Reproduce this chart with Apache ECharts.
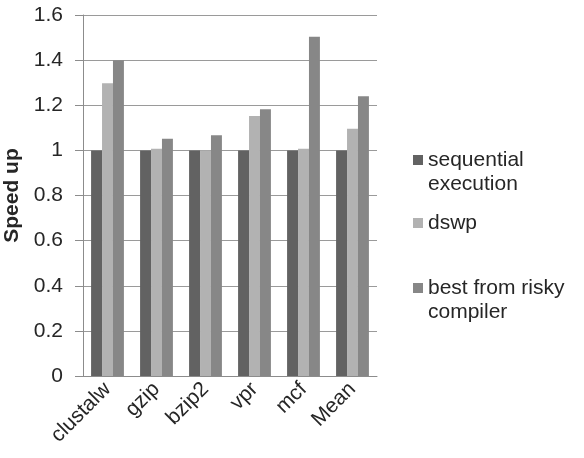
<!DOCTYPE html>
<html><head><meta charset="utf-8">
<script src="https://cdn.jsdelivr.net/npm/echarts@6/dist/echarts.min.js"></script>
<style>html,body{margin:0;padding:0;background:#fff}#c{width:584px;height:458px}</style>
</head><body><div id="c"></div>
<script>
const categories = ['clustalw', 'gzip', 'bzip2', 'vpr', 'mcf', 'Mean'];
const sequential = [1, 1, 1, 1, 1, 1];
const dswp = [1.297, 1.007, 1.0, 1.152, 1.007, 1.096];
const risky = [1.40, 1.052, 1.067, 1.182, 1.504, 1.240];
const yTicks = { min: 0, max: 1.6, interval: 0.2 };

const font = 'Liberation Sans, Arial, sans-serif';
const chart = echarts.init(document.getElementById('c'));
const legendBase = {
  orient: 'vertical', left: 413, itemWidth: 10, itemHeight: 10, itemGap: 0,
  icon: 'rect', selectedMode: false, padding: 0,
  textStyle: { fontFamily: font, fontSize: 21, color: '#262626', lineHeight: 24 }
};
chart.setOption({
  animation: false,
  grid: { left: 83, right: 207, top: 15, bottom: 82, outerBoundsMode: 'none' },
  legend: [
    Object.assign({}, legendBase, { top: 124, data: ['sequential execution'],
      formatter: () => '\nsequential\nexecution' }),
    Object.assign({}, legendBase, { top: 211, data: ['dswp'] }),
    Object.assign({}, legendBase, { top: 252, data: ['best from risky compiler'],
      formatter: () => '\nbest from risky\ncompiler' })
  ],
  xAxis: {
    type: 'category', data: categories,
    axisLine: { lineStyle: { color: '#8c8c8c' } },
    axisTick: { show: false },
    axisLabel: { rotate: 45, fontFamily: font, fontSize: 21, color: '#262626', margin: 10, interval: 0 }
  },
  yAxis: {
    type: 'value', min: yTicks.min, max: yTicks.max, interval: yTicks.interval,
    name: 'Speed up', nameLocation: 'middle', nameGap: 59,
    nameTextStyle: { fontFamily: font, fontSize: 21, fontWeight: 'bold', color: '#262626' },
    axisLine: { show: true, lineStyle: { color: '#8c8c8c' } },
    axisTick: { show: true, length: 8, lineStyle: { color: '#8c8c8c' } },
    splitLine: { lineStyle: { color: '#9a9a9a' } },
    axisLabel: { fontFamily: font, fontSize: 21, color: '#262626', margin: 20,
      formatter: v => String(Math.round(v * 10) / 10) }
  },
  series: [
    { name: 'sequential execution', type: 'bar', data: sequential, barGap: '0%', barCategoryGap: '33%',
      itemStyle: { color: '#626262' } },
    { name: 'dswp', type: 'bar', data: dswp, itemStyle: { color: '#b2b2b2' } },
    { name: 'best from risky compiler', type: 'bar', data: risky, itemStyle: { color: '#878787' } }
  ]
});
</script></body></html>
